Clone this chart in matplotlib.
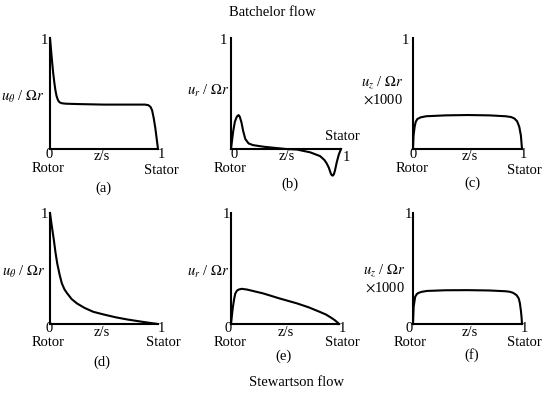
import numpy as np
import matplotlib
matplotlib.use("Agg")
import matplotlib.pyplot as plt

plt.rcParams['font.family'] = ['Liberation Serif', 'DejaVu Serif']
plt.rcParams['mathtext.fontset'] = 'stix'

# Batchelor flow
za = [0, 0.01, 0.02, 0.03, 0.04, 0.05, 0.06, 0.07, 0.08, 0.09, 0.11, 0.15, 0.25, 0.5, 0.75, 0.88, 0.91, 0.93, 0.945, 0.96, 0.975, 1.0]
va = [1.0, 0.89, 0.78, 0.68, 0.6, 0.53, 0.48, 0.45, 0.43, 0.42, 0.412, 0.408, 0.405, 0.40, 0.40, 0.40, 0.395, 0.38, 0.35, 0.28, 0.19, 0.0]

zb = [0, 0.01, 0.02, 0.035, 0.05, 0.06, 0.07, 0.08, 0.095, 0.11, 0.13, 0.16, 0.2, 0.3, 0.4, 0.5, 0.6, 0.72, 0.81, 0.85, 0.87, 0.89, 0.905, 0.915, 0.925, 0.935, 0.945, 0.96, 0.98, 1.0]
vb = [0, 0.08, 0.16, 0.245, 0.285, 0.30, 0.305, 0.29, 0.24, 0.165, 0.09, 0.05, 0.035, 0.02, 0.01, 0.0, -0.005, -0.03, -0.064, -0.1, -0.13, -0.17, -0.215, -0.235, -0.24, -0.228, -0.195, -0.125, -0.05, 0.0]

zc = [0, 0.005, 0.015, 0.025, 0.04, 0.07, 0.12, 0.3, 0.5, 0.7, 0.85, 0.9, 0.93, 0.955, 0.975, 0.99, 1.0]
vc = [0, 0.12, 0.2, 0.245, 0.27, 0.285, 0.295, 0.303, 0.306, 0.303, 0.295, 0.288, 0.275, 0.25, 0.2, 0.12, 0.0]

# Stewartson flow
zd = [0, 0.02, 0.036, 0.05, 0.067, 0.09, 0.11, 0.135, 0.16, 0.2, 0.25, 0.32, 0.4, 0.5, 0.61, 0.72, 0.82, 0.91, 1.0]
vd = [1.0, 0.86, 0.755, 0.65, 0.545, 0.44, 0.365, 0.31, 0.275, 0.225, 0.185, 0.145, 0.11, 0.085, 0.06, 0.04, 0.025, 0.012, 0.0]

ze = [0, 0.01, 0.018, 0.03, 0.04, 0.055, 0.07, 0.1, 0.15, 0.3, 0.45, 0.61, 0.72, 0.82, 0.88, 0.93, 0.96, 0.985, 1.0]
ve = [0, 0.09, 0.156, 0.23, 0.275, 0.3, 0.31, 0.317, 0.31, 0.275, 0.23, 0.186, 0.15, 0.11, 0.085, 0.055, 0.035, 0.015, 0.0]

zf = [0, 0.006, 0.02, 0.035, 0.05, 0.08, 0.13, 0.3, 0.5, 0.7, 0.85, 0.89, 0.92, 0.95, 0.97, 0.98, 0.99, 0.996, 1.0]
vf = [0, 0.156, 0.245, 0.27, 0.28, 0.29, 0.298, 0.304, 0.305, 0.302, 0.295, 0.29, 0.28, 0.26, 0.23, 0.19, 0.12, 0.06, 0.0]

W, H = 550, 393
fig = plt.figure(figsize=(W / 100, H / 100), dpi=100)
FS = 10.5


def t(x, y, s, **kw):
    # place text in pixel coords of the picture
    fig.text(x / W, 1 - y / H, s, fontsize=kw.pop('fs', FS), ha=kw.pop('ha', 'center'), va=kw.pop('va', 'center'), **kw)


def panel(x0, top, w, h, z, v):
    ax = fig.add_axes([x0 / W, 1 - (top + h) / H, w / W, h / H])
    ax.plot(z, v, color='black', lw=1.5, clip_on=False, solid_joinstyle='round')
    ax.set_xlim(0, 1)
    ax.set_ylim(0, 1)
    for s in ['top', 'right']:
        ax.spines[s].set_visible(False)
    for s in ['left', 'bottom']:
        ax.spines[s].set_linewidth(1.5)
    ax.set_xticks([])
    ax.set_yticks([])
    ax.patch.set_alpha(0)
    return ax


panel(50, 38, 108, 111, za, va)
panel(231, 38, 110, 111, zb, vb)
panel(413, 38, 109, 111, zc, vc)
panel(50, 213, 108, 111, zd, vd)
panel(231, 213, 108, 111, ze, ve)
panel(413, 213, 109, 111, zf, vf)

uth = r'$u_\theta$ / $\mathit{\Omega r}$'
ur = r'$u_r$ / $\mathit{\Omega r}$'
uz = r'$u_z$ / $\mathit{\Omega r}$'

t(272, 13, 'Batchelor flow')
t(297, 382, 'Stewartson flow')

# (a)
t(44, 40, '1')
t(23, 97, uth)
t(49, 154, '0'); t(48, 168, 'Rotor'); t(102, 157, 'z/s'); t(161, 154, '1'); t(161, 170, 'Stator')
t(103, 188, '(a)')
# (b)
t(223, 40, '1')
t(208, 91, ur)
t(234, 154, '0'); t(230, 168, 'Rotor'); t(287, 157, 'z/s'); t(346, 158, '1'); t(342, 137, 'Stator')
t(290, 184, '(b)')
# (c)
t(405, 40, '1')
t(403, 82, uz, ha='right'); t(403, 100, r'$\times$1000', ha='right')
t(413, 154, '0'); t(412, 169, 'Rotor'); t(470, 157, 'z/s'); t(523, 154, '1'); t(524, 170, 'Stator')
t(472, 183, '(c)')
# (d)
t(44, 215, '1')
t(24, 272, uth)
t(49, 328, '0'); t(48, 343, 'Rotor'); t(102, 332, 'z/s'); t(161, 328, '1'); t(163, 343, 'Stator')
t(102, 362, '(d)')
# (e)
t(226, 215, '1')
t(208, 272, ur)
t(228, 328, '0'); t(230, 343, 'Rotor'); t(286, 332, 'z/s'); t(342, 328, '1'); t(342, 343, 'Stator')
t(283, 356, '(e)')
# (f)
t(408, 215, '1')
t(405, 270, uz, ha='right'); t(405, 288, r'$\times$1000', ha='right')
t(409, 328, '0'); t(410, 343, 'Rotor'); t(470, 332, 'z/s'); t(524, 328, '1'); t(524, 343, 'Stator')
t(472, 355, '(f)')

fig.savefig('out.png', dpi=100)
